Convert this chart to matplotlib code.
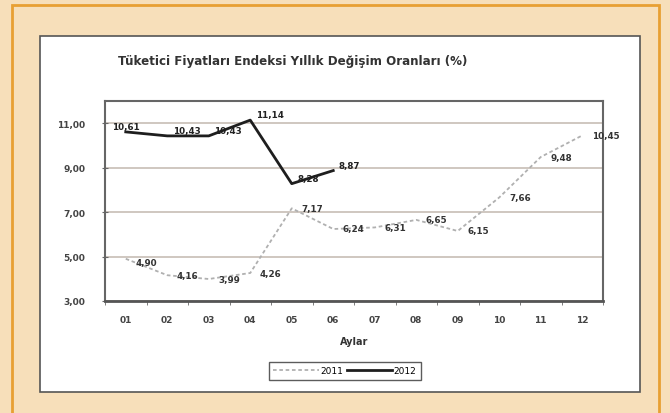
import matplotlib.pyplot as plt
from matplotlib.patches import Rectangle

months = ['01', '02', '03', '04', '05', '06', '07', '08', '09', '10', '11', '12']
y2011 = [4.90, 4.16, 3.99, 4.26, 7.17, 6.24, 6.31, 6.65, 6.15, 7.66, 9.48, 10.45]
y2012 = [10.61, 10.43, 10.43, 11.14, 8.28, 8.87]
yticks = [3, 5, 7, 9, 11]

def tr(v):
    # turkish decimal comma
    return ('%.2f' % v).replace('.', ',')

fig = plt.figure(figsize=(6.7, 4.14), dpi=100)
fig.patch.set_facecolor('#f7dfba')

# orange frame and white chart panel (behind the axes)
fig.patches.append(Rectangle((12/670, -0.05), 647/670, 1.05 - 6/414, transform=fig.transFigure,
                             facecolor='none', edgecolor='#e8a033', lw=2, zorder=-2))
fig.patches.append(Rectangle((40/670, 21/414), 600/670, 356/414, transform=fig.transFigure,
                             facecolor='white', edgecolor='#555555', lw=1.2, zorder=-1))

ax = fig.add_axes([105/670, 112/414, 498/670, 200/414], zorder=1)
x = list(range(1, 13))
ax.plot(x, y2011, color='#b0b0b0', lw=1.3, ls=(0, (2, 1.5)), label='2011', zorder=3)
ax.plot(x[:len(y2012)], y2012, color='#1e1e1e', lw=2, label='2012', zorder=4)

for i, v in enumerate(y2011):
    dy = -3 if i == 0 else 0
    ax.annotate(tr(v), (x[i], v), xytext=(7, dy), textcoords='offset points',
                fontsize=6.3, fontweight='bold', color='#333333', va='center')
for i, v in enumerate(y2012):
    if i == 0:
        ax.annotate(tr(v), (x[i], v), xytext=(0, 4), textcoords='offset points', ha='center',
                    fontsize=6.3, fontweight='bold', color='#222222', va='center')
    else:
        ax.annotate(tr(v), (x[i], v), xytext=(4, 4), textcoords='offset points',
                    fontsize=6.3, fontweight='bold', color='#222222', va='center')

ax.set_xlim(0.5, 12.5)
ax.set_ylim(3, 12)
ax.set_yticks(yticks)
ax.set_yticklabels([tr(t) for t in yticks], fontsize=6.5, fontweight='bold', color='#444444')
ax.set_xticks(x)
ax.set_xticklabels(months, fontsize=6.5, fontweight='bold', color='#444444')
ax.set_xticks([i + 0.5 for i in range(0, 13)], minor=True)
ax.tick_params(axis='x', which='major', length=0, pad=10)
ax.tick_params(axis='x', which='minor', length=3, direction='out', color='#666666')
ax.tick_params(axis='y', length=4, direction='inout', color='#666666', pad=12)
ax.yaxis.grid(True, color='#cfc7c0', lw=1.4)
ax.set_axisbelow(True)
for s in ax.spines.values():
    s.set_color('#666666')
    s.set_linewidth(1.5)
ax.spines['bottom'].set_color('#555555')
ax.spines['bottom'].set_linewidth(2)

ax.set_xlabel('Aylar', fontsize=7, fontweight='bold', color='#333333', labelpad=9)

fig.text(118/670, 1 - 61/414, 'Tüketici Fiyatları Endeksi Yıllık Değişim Oranları (%)',
         fontsize=8.6, fontweight='bold', color='#333333', va='center', ha='left')

leg = fig.legend(loc='center', bbox_to_anchor=(345/670, 1 - 372/414), ncol=2, fontsize=6.5,
                 frameon=True, fancybox=False, handlelength=5, columnspacing=0.4,
                 handletextpad=0.2, borderpad=0.5)
leg.get_frame().set_edgecolor('#333333')
leg.get_frame().set_linewidth(1)

fig.savefig('out.png', dpi=100, facecolor=fig.get_facecolor())
